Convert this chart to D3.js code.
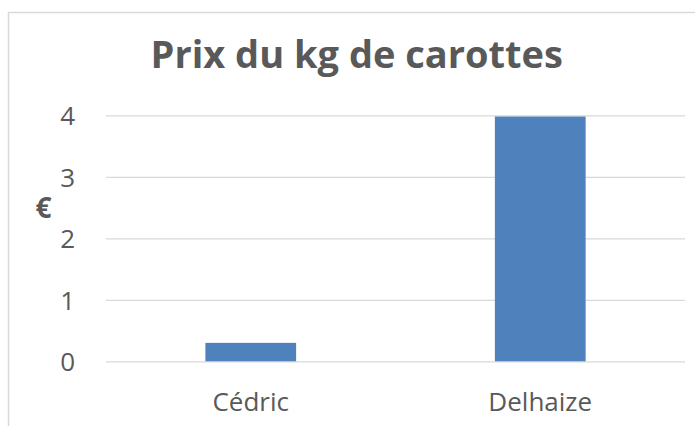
<!DOCTYPE html>
<html><head><meta charset="utf-8">
<script src="https://cdn.jsdelivr.net/npm/d3@7"></script>
<style>
html,body{margin:0;padding:0;background:#fff;}
svg{display:block;}
</style></head>
<body>
<script>
const categories = ["Cédric", "Delhaize"];
const values = [0.3, 3.98];
const yTicks = [0, 1, 2, 3, 4];
const title = "Prix du kg de carottes";
const yTitle = "€";

const W = 695, H = 426;
const svg = d3.select("body").append("svg").attr("width", W).attr("height", H);
const font = "'Open Sans', sans-serif";
const textColor = "#595959";

// chart border
svg.append("rect").attr("x", 8.5).attr("y", 12.5).attr("width", 700).attr("height", 430)
  .attr("fill", "none").attr("stroke", "#d9d9d9").attr("stroke-width", 1.5);

const plot = {left: 106, right: 685, top: 115.3, bottom: 361.3};
const x = d3.scaleBand().domain(categories).range([plot.left, plot.right]).padding(0);
const y = d3.scaleLinear().domain([0, 4]).range([plot.bottom, plot.top]);

// gridlines
const yAxis = d3.axisLeft(y).tickValues(yTicks).tickSize(-(plot.right - plot.left)).tickPadding(31).tickFormat(d3.format("d"));
const gy = svg.append("g").attr("transform", `translate(${plot.left},0)`).call(yAxis);
gy.select(".domain").remove();
gy.selectAll(".tick line").attr("stroke", "#d9d9d9").attr("stroke-width", 1.3);
gy.selectAll(".tick text").attr("fill", textColor).attr("font-family", font).attr("font-size", 26).attr("dy", "0.36em");

// bars
const barW = x.bandwidth() / 3.19;
svg.append("g").selectAll("rect").data(values).join("rect")
  .attr("x", (d, i) => x(categories[i]) + (x.bandwidth() - barW) / 2)
  .attr("width", barW)
  .attr("y", d => y(d))
  .attr("height", d => y(0) - y(d))
  .attr("fill", "#4f81bd");

// x axis labels
const xAxis = d3.axisBottom(x).tickSize(0).tickPadding(0);
const gx = svg.append("g").attr("transform", `translate(0,${plot.bottom})`).call(xAxis);
gx.select(".domain").remove();
gx.selectAll(".tick text").attr("fill", textColor).attr("font-family", font).attr("font-size", 26)
  .attr("dy", 0).attr("y", 50);

// title
svg.append("text").attr("x", 356.7).attr("y", 68).attr("text-anchor", "middle")
  .attr("fill", textColor).attr("font-family", font).attr("font-weight", "bold").attr("font-size", 38)
  .text(title);

// y title
svg.append("text").attr("x", 43.5).attr("y", 218).attr("text-anchor", "middle")
  .attr("fill", textColor).attr("font-family", font).attr("font-weight", "bold").attr("font-size", 28)
  .text(yTitle);
</script>
</body></html>
